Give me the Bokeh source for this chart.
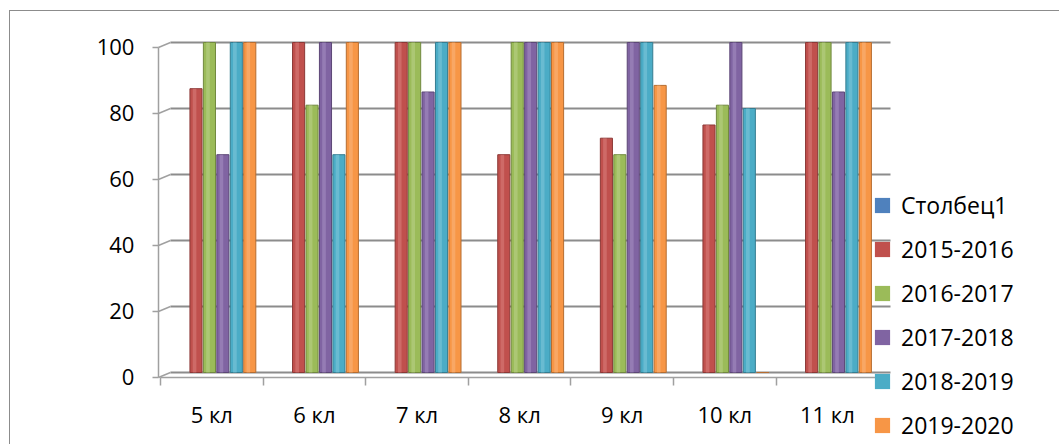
import numpy as np
from bokeh.plotting import figure
from bokeh.models import Range1d, FixedTicker, Legend, LegendItem, ColumnDataSource, LinearAxis
from bokeh.embed import file_html
from bokeh.resources import INLINE

categories = ["5 кл", "6 кл", "7 кл", "8 кл", "9 кл", "10 кл", "11 кл"]
series_names = ["Столбец1", "2015-2016", "2016-2017", "2017-2018", "2018-2019", "2019-2020"]
v_stolbec1 = [None, None, None, None, None, None, None]
v_2015_2016 = [86, 100, 100, 66, 71, 75, 100]
v_2016_2017 = [100, 81, 100, 100, 66, 81, 100]
v_2017_2018 = [66, 100, 85, 100, 100, 100, 85]
v_2018_2019 = [100, 66, 100, 100, 100, 80, 100]
v_2019_2020 = [100, 100, 100, 100, 87, 0, 100]
y_ticks = [0, 20, 40, 60, 80, 100]

series_values = [v_stolbec1, v_2015_2016, v_2016_2017, v_2017_2018, v_2018_2019, v_2019_2020]
colors = ["#4f81bd", "#c0504d", "#9bbb59", "#8064a2", "#4bacc6", "#f79646"]
edges = ["#385d8a", "#8c3836", "#71893f", "#5c4776", "#357d91", "#b66d31"]
lights = ["#7fa3d1", "#d9807e", "#b9d18a", "#a58fc3", "#83c8da", "#fab77f"]

FONT = "Open Sans"
W, H = 1050, 434
X0_PX, PX_PER_CAT = 150.0, 102.6      # pixel of x=0, pixels per category
Y0_PX, PX_PER_Y = 361.0, 3.3          # pixel (from top) of y=0, pixels per unit
FRONT = 1.5                           # 3D front-axis offset (units)
WALL_X0, WALL_X1, AXIS_X = 0.097, 7.115, -0.02

x_range = Range1d(-X0_PX / PX_PER_CAT, (W - X0_PX) / PX_PER_CAT)
y_range = Range1d(-(H - Y0_PX) / PX_PER_Y, Y0_PX / PX_PER_Y)

p = figure(width=W, height=H, output_backend="svg", toolbar_location=None,
           x_range=x_range, y_range=y_range, y_axis_location=None,
           min_border=0, min_border_left=0, min_border_right=0,
           min_border_top=0, min_border_bottom=0)
p.extra_y_ranges = {"front": Range1d(y_range.start + FRONT, y_range.end + FRONT)}
p.outline_line_color = None
p.background_fill_color = "white"
p.border_fill_color = "white"
p.styles = {"margin-left": "9px", "margin-top": "10px",
            "border-top": "1px solid #8c8c8c", "border-left": "1px solid #8c8c8c"}
p.xgrid.grid_line_color = None
p.ygrid.grid_line_color = None

# back-wall grid lines and 3D connectors from the front axis ticks
p.segment(x0=WALL_X0, x1=WALL_X1, y0=y_ticks, y1=y_ticks, line_color="#8c8c8c", line_width=2)
p.segment(x0=AXIS_X, x1=WALL_X0, y0=[t - FRONT for t in y_ticks], y1=y_ticks,
          line_color="#a0a0a0", line_width=1.5)

slot_w = 0.131
first_slot = 0.215
bar_w = 0.118
idx = np.arange(len(categories))

legend_items = []
for s, (name, vals) in enumerate(zip(series_names, series_values)):
    xs = idx + first_slot + s * slot_w
    present = [i for i, v in enumerate(vals) if v is not None]
    src = ColumnDataSource(dict(x=[xs[i] for i in present], top=[vals[i] for i in present]))
    p.vbar(x="x", top="top", bottom=0, width=bar_w, source=src,
           fill_color=colors[s], line_color=edges[s], line_width=1)
    hsrc = ColumnDataSource(dict(x=[xs[i] - bar_w * 0.12 for i in present],
                                 top=[vals[i] for i in present]))
    p.vbar(x="x", top="top", bottom=0, width=bar_w * 0.3, source=hsrc,
           fill_color=lights[s], fill_alpha=0.55, line_color=None)
    # zero-size markers at the bar tops: only their legend swatch is visible
    msrc = ColumnDataSource(dict(x=list(xs), y=[np.nan if v is None else v for v in vals]))
    leg = p.scatter(x="x", y="y", source=msrc, marker="square", size=0,
                    fill_color=colors[s], line_color=None)
    legend_items.append(LegendItem(label=name, renderers=[leg]))

# x axis (front, at floor)
xa = p.xaxis[0]
xa.fixed_location = -FRONT
xa.bounds = (0, len(categories))
xa.ticker = FixedTicker(ticks=list(idx + 0.5), minor_ticks=list(range(len(categories) + 1)))
xa.major_label_overrides = {float(i + 0.5): c for i, c in enumerate(categories)}
xa.major_tick_out = 0
xa.major_tick_in = 0
xa.minor_tick_out = 8
xa.minor_tick_in = 0
xa.minor_tick_line_color = "#a0a0a0"
xa.minor_tick_line_width = 1.5
xa.major_label_standoff = 14

# y axis (front)
ya = LinearAxis(y_range_name="front", fixed_location=AXIS_X, bounds=(0, 100),
                ticker=FixedTicker(ticks=y_ticks, minor_ticks=[]))
ya.major_tick_out = 6
ya.major_tick_in = 0
ya.major_tick_line_color = "#a0a0a0"
ya.major_tick_line_width = 1.5
ya.major_label_standoff = 18
p.add_layout(ya, "left")

for ax in (xa, ya):
    ax.axis_line_color = "#a0a0a0"
    ax.axis_line_width = 1.5
    ax.major_label_text_font = FONT
    ax.major_label_text_font_size = "22px"
    ax.major_label_text_color = "black"

legend = Legend(items=legend_items, location=(853, 1), orientation="vertical")
legend.glyph_width = 38
legend.glyph_height = 38
legend.label_height = 38
legend.spacing = 6
legend.padding = 0
legend.margin = 0
legend.label_standoff = -8
legend.border_line_color = None
legend.background_fill_alpha = 0
legend.label_text_font = FONT
legend.label_text_font_size = "23px"
legend.label_text_color = "black"
legend.label_text_baseline = "middle"
p.add_layout(legend, "center")

open("out.html", "w").write(file_html(p, INLINE))
